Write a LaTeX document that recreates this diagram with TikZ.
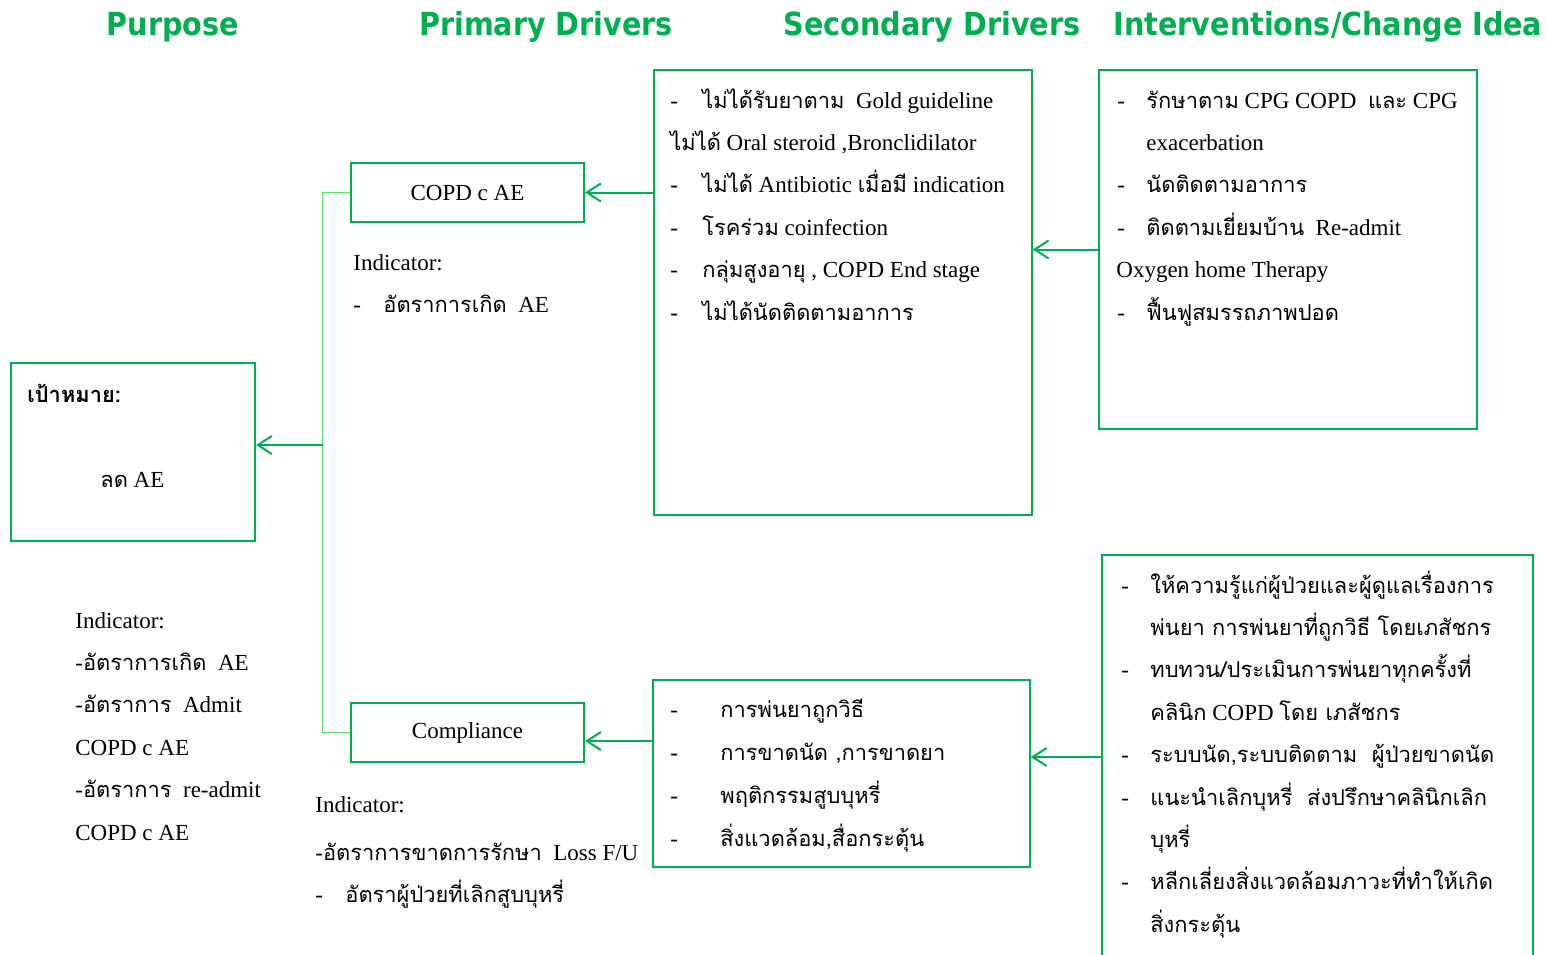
\documentclass[tikz,border=0pt]{standalone}
\usepackage{fontspec}
\setmainfont{Liberation Serif}
\newfontfamily\thaifont[Script=Thai,Scale=0.95]{Loma}
\newfontfamily\headfont[FakeStretch=0.9]{DejaVu Sans}
\newcommand{\tf}[1]{{\thaifont #1}}
\usetikzlibrary{arrows.meta}
\definecolor{boxgreen}{RGB}{0,176,80}
\definecolor{treegreen}{RGB}{90,225,110}

\begin{document}
\begin{tikzpicture}[x=0.5pt,y=-0.5pt,
    head/.style={anchor=base,inner sep=0,text=boxgreen,font=\headfont\bfseries\fontsize{15.9}{18}\selectfont},
    txt/.style={anchor=base west,inner sep=0,font=\fontsize{11.5}{14}\selectfont},
    pbox/.style={draw=boxgreen,line width=1pt,minimum width=116.5pt,minimum height=29.5pt,inner sep=0,font=\fontsize{11.5}{14}\selectfont},
    sbox/.style={draw=boxgreen,line width=0.75pt,inner sep=0},
    arr/.style={draw=boxgreen,line width=1pt,-{Straight Barb[length=7pt,width=9pt]}},
    tree/.style={draw=treegreen,line width=0.5pt}]
    \useasboundingbox (0,0) rectangle (1546,954);
    \clip (0,0) rectangle (1546,954);

    % column titles
    \node[head] (h1) at (173,35) {Purpose};
    \node[head] (h2) at (546,35) {Primary Drivers};
    \node[head] (h3) at (932,35) {Secondary Drivers};
    \node[head] (h4) at (1328,35) {Interventions/Change Idea};

    % boxes
    \node[sbox,line width=1pt,minimum width=122pt,minimum height=89pt] (goal) at (133,452) {};
    \node[pbox] (copd) at (467.5,192.5) {COPD c AE};
    \node[pbox] (comp) at (467.5,732.5) {Compliance};
    \node[sbox,minimum width=189pt,minimum height=222.5pt] (sec1) at (843,292.5) {};
    \node[sbox,minimum width=189pt,minimum height=179.5pt] (int1) at (1288,249.5) {};
    \node[sbox,minimum width=188.5pt,minimum height=93.5pt] (sec2) at (841.5,773.5) {};
    \node[sbox,minimum width=215.5pt,minimum height=210pt] (int2) at (1317.5,765) {};

    % purpose
    \node[txt] (g1) at (27,402) {\tf{\bfseries เป้าหมาย:}};
    \node[txt] (g2) at (100,487) {\tf{ลด} AE};
    \foreach \xa/\lab [count=\i] in {75/{Indicator:},
        75/{-\tf{อัตราการเกิด}\ \ AE},
        75/{-\tf{อัตราการ}\ \ Admit},
        75/{COPD c AE},
        75/{-\tf{อัตราการ}\ \ re-admit},
        75/{COPD c AE}}
      \node[txt] (gi\i) at (\xa,{628+42.4*(\i-1)}) {\lab};

    % primary drivers indicators
    \node[txt] (ai1) at (353,270) {Indicator:};
    \node[txt] (ai2d) at (353,312) {-};
    \node[txt] (ai2) at (383,312) {\tf{อัตราการเกิด}\ \ AE};
    \node[txt] (ci1) at (315,812) {Indicator:};
    \node[txt] (ci2) at (315,860) {-\tf{อัตราการขาดการรักษา}\ \ Loss F/U};
    \node[txt] (ci3d) at (315,902) {-};
    \node[txt] (ci3) at (345,902) {\tf{อัตราผู้ป่วยที่เลิกสูบบุหรี่}};

    % secondary drivers
    \foreach \xa/\lab [count=\i] in {702/{\tf{ไม่ได้รับยาตาม}\ \ Gold guideline},
        670/{\tf{ไม่ได้} Oral steroid ,Bronclidilator},
        702/{\tf{ไม่ได้} Antibiotic \tf{เมื่อมี} indication},
        702/{\tf{โรคร่วม} coinfection},
        702/{\tf{กลุ่มสูงอายุ} , COPD End stage},
        702/{\tf{ไม่ได้นัดติดตามอาการ}}}
      \node[txt] (s1t\i) at (\xa,{108+42.4*(\i-1)}) {\lab};
    \foreach \i in {1,3,4,5,6}
      \node[txt] (s1d\i) at (670,{108+42.4*(\i-1)}) {-};
    \foreach \lab [count=\i] in {{\tf{การพ่นยาถูกวิธี}},
        {\tf{การขาดนัด ,การขาดยา}},
        {\tf{พฤติกรรมสูบบุหรี่}},
        {\tf{สิ่งแวดล้อม,สื่อกระตุ้น}}}
      {\node[txt] (s2t\i) at (720,{717+43*(\i-1)}) {\lab};
       \node[txt] (s2d\i) at (670,{717+43*(\i-1)}) {-};}

    % interventions
    \foreach \xa/\lab [count=\i] in {1146/{\tf{รักษาตาม} CPG COPD\ \ \tf{และ} CPG},
        1146/{exacerbation},
        1146/{\tf{นัดติดตามอาการ}},
        1146/{\tf{ติดตามเยี่ยมบ้าน}\ \ Re-admit},
        1116/{Oxygen home Therapy},
        1146/{\tf{ฟื้นฟูสมรรถภาพปอด}}}
      \node[txt] (i1t\i) at (\xa,{108+42.4*(\i-1)}) {\lab};
    \foreach \i in {1,3,4,6}
      \node[txt] (i1d\i) at (1117,{108+42.4*(\i-1)}) {-};
    \foreach \lab [count=\i] in {{\tf{ให้ความรู้แก่ผู้ป่วยและผู้ดูแลเรื่องการ}},
        {\tf{พ่นยา การพ่นยาที่ถูกวิธี โดยเภสัชกร}},
        {\tf{ทบทวน/ประเมินการพ่นยาทุกครั้งที่}},
        {\tf{คลินิก} COPD \tf{โดย เภสัชกร}},
        {\tf{ระบบนัด,ระบบติดตาม\ \ ผู้ป่วยขาดนัด}},
        {\tf{แนะนำเลิกบุหรี่\ \ ส่งปรึกษาคลินิกเลิก}},
        {\tf{บุหรี่}},
        {\tf{หลีกเลี่ยงสิ่งแวดล้อมภาวะที่ทำให้เกิด}},
        {\tf{สิ่งกระตุ้น}}}
      \node[txt] (i2t\i) at (1150,{593+42.4*(\i-1)}) {\lab};
    \foreach \i in {1,3,5,6,8}
      \node[txt] (i2d\i) at (1121,{593+42.4*(\i-1)}) {-};

    % connectors
    \draw[tree] (copd.west) -- ++(-28,0) |- (comp.west);
    \coordinate (fork) at (323,445);
    \draw[arr] (fork) -- (fork -| goal.east);
    \draw[arr] (sec1.west |- copd.east) -- (copd.east);
    \draw[arr] (int1.west) -- (int1.west -| sec1.east);
    \coordinate (s2out) at (653,741);
    \draw[arr] (s2out) -- (s2out -| comp.east);
    \coordinate (i2out) at (1102,757);
    \draw[arr] (i2out) -- (i2out -| sec2.east);
\end{tikzpicture}
\end{document}
